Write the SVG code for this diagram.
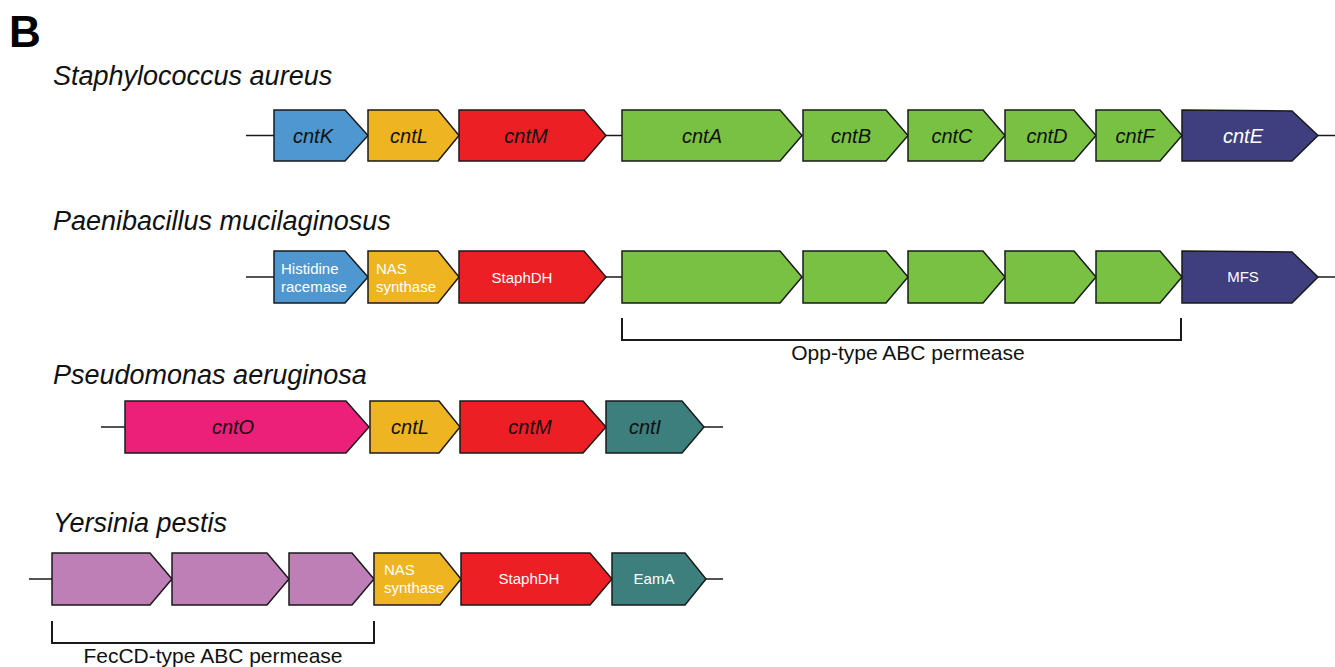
<svg xmlns="http://www.w3.org/2000/svg" width="1335" height="667" viewBox="0 0 1335 667">
  <style>
    .gene { stroke: #1a1a1a; stroke-width: 1.5; stroke-linejoin: miter; }
    .blue { fill: #4f97d0; }
    .yellow { fill: #efb421; }
    .red { fill: #ec2024; }
    .green { fill: #79c143; }
    .navy { fill: #3f3f7f; }
    .pink { fill: #ec1f79; }
    .teal { fill: #3d7f7c; }
    .purple { fill: #bd7fb5; }
    .backbone { stroke: #1a1a1a; stroke-width: 1.5; fill: none; }
    .bracket { stroke: #1a1a1a; stroke-width: 2; fill: none; }
    .gname { font-family: "Liberation Sans", Arial, sans-serif; font-style: italic; font-size: 20px; text-anchor: middle; fill: #111; }
    .gname.w { fill: #ffffff; }
    .func { font-family: "Liberation Sans", Arial, sans-serif; font-size: 15px; fill: #ffffff; }
    .func.c { text-anchor: middle; }
    .species { font-family: "Liberation Sans", Arial, sans-serif; font-style: italic; font-size: 27px; fill: #111; }
    .note { font-family: "Liberation Sans", Arial, sans-serif; font-size: 21px; fill: #111; text-anchor: middle; }
    .panel { font-family: "Liberation Sans", Arial, sans-serif; font-weight: bold; font-size: 44px; fill: #000; }
  </style>

  <text class="panel" x="9" y="47">B</text>

  <g id="connectors">
    <line class="backbone" x1="246" y1="135.5" x2="274" y2="135.5"/>
    <line class="backbone" x1="606" y1="135.5" x2="622" y2="135.5"/>
    <line class="backbone" x1="1318" y1="135.5" x2="1335" y2="135.5"/>
    <line class="backbone" x1="246" y1="277" x2="274" y2="277"/>
    <line class="backbone" x1="606" y1="277" x2="622" y2="277"/>
    <line class="backbone" x1="1318" y1="277" x2="1335" y2="277"/>
    <line class="backbone" x1="101" y1="427" x2="125" y2="427"/>
    <line class="backbone" x1="704" y1="427" x2="723" y2="427"/>
    <line class="backbone" x1="29" y1="579" x2="52" y2="579"/>
    <line class="backbone" x1="706" y1="579" x2="723" y2="579"/>
    <polyline class="bracket" points="622,318 622,340 1181,340 1181,318"/>
    <polyline class="bracket" points="52,621 52,643 374,643 374,621"/>
  </g>

  <!-- Staphylococcus aureus locus -->
  <text class="species" x="53" y="85">Staphylococcus aureus</text>
  <g id="sa-cntK"><polygon class="gene blue" points="274,110 345,110 368,135.5 345,161 274,161"/><text class="gname" x="313" y="143">cntK</text></g>
  <g id="sa-cntL"><polygon class="gene yellow" points="368,110 438,110 459,135.5 438,161 368,161"/><text class="gname" x="409" y="143">cntL</text></g>
  <g id="sa-cntM"><polygon class="gene red" points="459,110 584,110 606,135.5 584,161 459,161"/><text class="gname" x="526" y="143">cntM</text></g>
  <g id="sa-cntA"><polygon class="gene green" points="622,110 780,110 802,135.5 780,161 622,161"/><text class="gname" x="702" y="143">cntA</text></g>
  <g id="sa-cntB"><polygon class="gene green" points="803,110 886,110 908,135.5 886,161 803,161"/><text class="gname" x="851" y="143">cntB</text></g>
  <g id="sa-cntC"><polygon class="gene green" points="908,110 983,110 1005,135.5 983,161 908,161"/><text class="gname" x="952" y="143">cntC</text></g>
  <g id="sa-cntD"><polygon class="gene green" points="1005,110 1074,110 1096,135.5 1074,161 1005,161"/><text class="gname" x="1047" y="143">cntD</text></g>
  <g id="sa-cntF"><polygon class="gene green" points="1096,110 1160,110 1182,135.5 1160,161 1096,161"/><text class="gname" x="1135" y="143">cntF</text></g>
  <g id="sa-cntE"><polygon class="gene navy" points="1182,110 1292,111 1318,135.5 1292,161 1182,161"/><text class="gname w" x="1243" y="143">cntE</text></g>

  <!-- Paenibacillus mucilaginosus locus -->
  <text class="species" x="53" y="230">Paenibacillus mucilaginosus</text>
  <g id="pm-his"><polygon class="gene blue" points="274,251 345,251 368,277 345,303 274,303"/><text class="func" x="281" y="274">Histidine</text><text class="func" x="281" y="292">racemase</text></g>
  <g id="pm-nas"><polygon class="gene yellow" points="368,251 438,251 459,277 438,303 368,303"/><text class="func" x="376" y="274">NAS</text><text class="func" x="376" y="292">synthase</text></g>
  <g id="pm-staphdh"><polygon class="gene red" points="459,251 584,251 606,277 584,303 459,303"/><text class="func c" x="522" y="283">StaphDH</text></g>
  <g id="pm-opp1"><polygon class="gene green" points="622,251 780,251 802,277 780,303 622,303"/></g>
  <g id="pm-opp2"><polygon class="gene green" points="803,251 886,251 908,277 886,303 803,303"/></g>
  <g id="pm-opp3"><polygon class="gene green" points="908,251 983,251 1005,277 983,303 908,303"/></g>
  <g id="pm-opp4"><polygon class="gene green" points="1005,251 1074,251 1096,277 1074,303 1005,303"/></g>
  <g id="pm-opp5"><polygon class="gene green" points="1096,251 1160,251 1182,277 1160,303 1096,303"/></g>
  <g id="pm-mfs"><polygon class="gene navy" points="1182,251 1292,252 1318,277 1292,303 1182,303"/><text class="func c" x="1243" y="282">MFS</text></g>
  <text class="note" x="908" y="360">Opp-type ABC permease</text>

  <!-- Pseudomonas aeruginosa locus -->
  <text class="species" x="53" y="384">Pseudomonas aeruginosa</text>
  <g id="pa-cntO"><polygon class="gene pink" points="125,401 346,401 369,427 346,453 125,453"/><text class="gname" x="233" y="434">cntO</text></g>
  <g id="pa-cntL"><polygon class="gene yellow" points="370,401 439,401 460,427 439,453 370,453"/><text class="gname" x="410" y="434">cntL</text></g>
  <g id="pa-cntM"><polygon class="gene red" points="460,401 583,401 606,427 583,453 460,453"/><text class="gname" x="530" y="434">cntM</text></g>
  <g id="pa-cntI"><polygon class="gene teal" points="606,401 682,401 704,427 682,453 606,453"/><text class="gname" x="645" y="434">cntI</text></g>

  <!-- Yersinia pestis locus -->
  <text class="species" x="53" y="532">Yersinia pestis</text>
  <g id="yp-fec1"><polygon class="gene purple" points="52,553 150,553 172,579 150,605 52,605"/></g>
  <g id="yp-fec2"><polygon class="gene purple" points="172,553 267,553 289,579 267,605 172,605"/></g>
  <g id="yp-fec3"><polygon class="gene purple" points="289,553 352,553 374,579 352,605 289,605"/></g>
  <g id="yp-nas"><polygon class="gene yellow" points="374,553 440,553 461,579 440,605 374,605"/><text class="func" x="384" y="575">NAS</text><text class="func" x="384" y="593">synthase</text></g>
  <g id="yp-staphdh"><polygon class="gene red" points="461,553 590,553 612,579 590,605 461,605"/><text class="func c" x="529" y="584">StaphDH</text></g>
  <g id="yp-eama"><polygon class="gene teal" points="612,553 685,553 706,579 685,605 612,605"/><text class="func c" x="654" y="584">EamA</text></g>
  <text class="note" x="213" y="663">FecCD-type ABC permease</text>
</svg>
